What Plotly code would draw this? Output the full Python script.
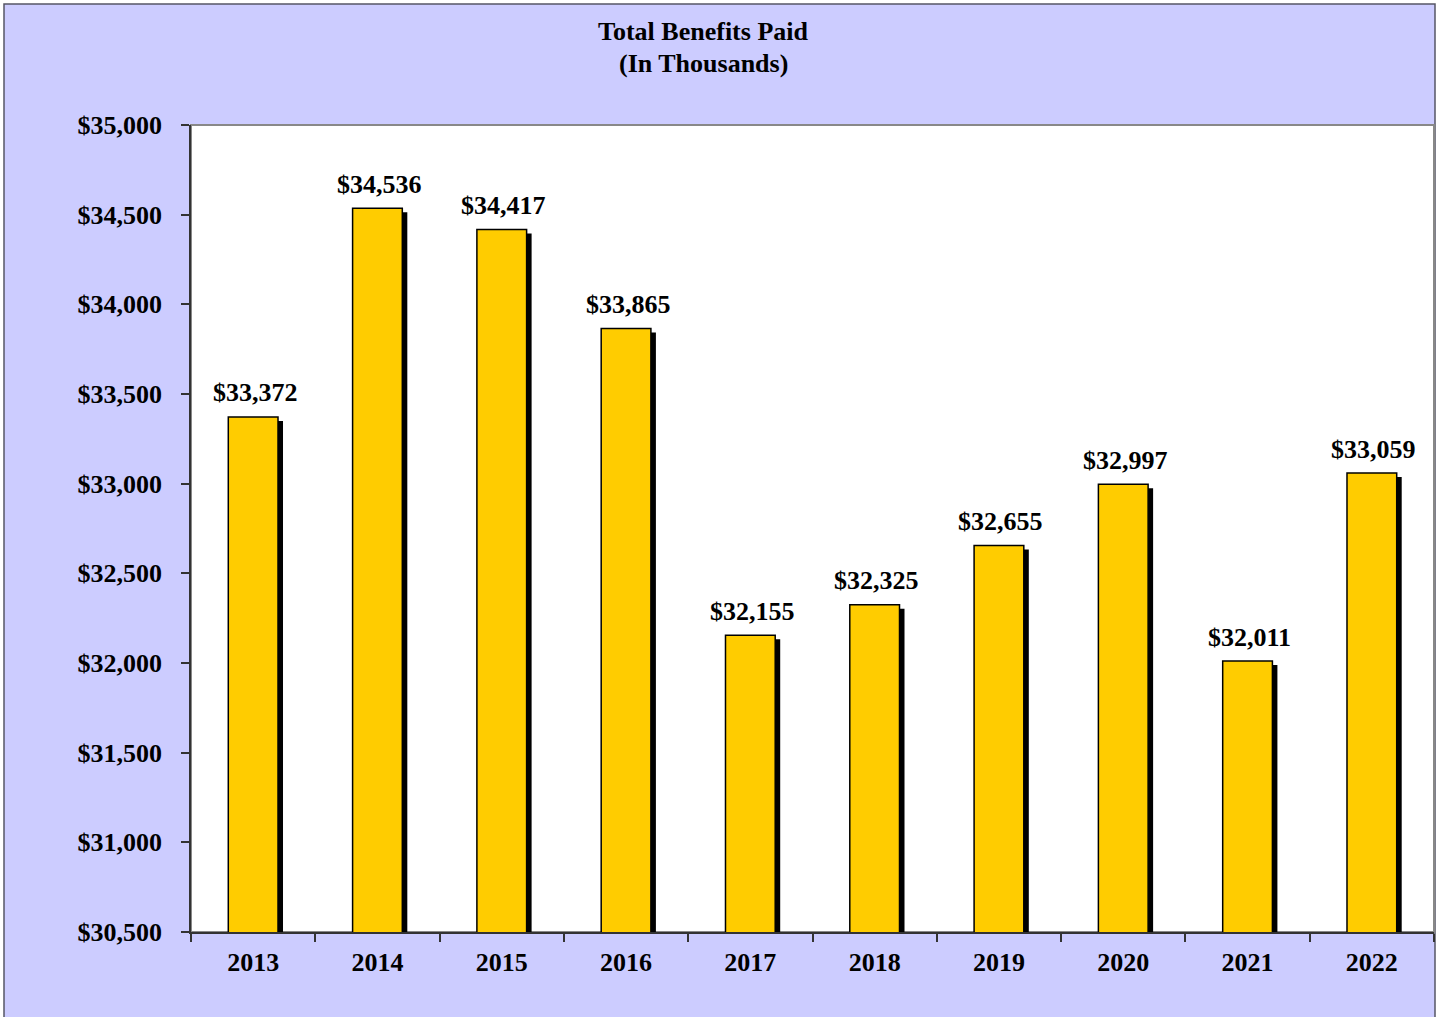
import plotly.graph_objects as go

years = ["2013", "2014", "2015", "2016", "2017", "2018", "2019", "2020", "2021", "2022"]
benefits = [33372, 34536, 34417, 33865, 32155, 32325, 32655, 32997, 32011, 33059]
labels = ["$33,372", "$34,536", "$34,417", "$33,865", "$32,155", "$32,325",
          "$32,655", "$32,997", "$32,011", "$33,059"]
y_ticks = [30500, 31000, 31500, 32000, 32500, 33000, 33500, 34000, 34500, 35000]
title_lines = ["Total Benefits Paid", "(In Thousands)"]

FONT = "Liberation Serif, Times New Roman, serif"
W, H = 1441, 1017
ML, MR, MT, MB = 191, 7, 125, 85
pw, ph = W - ML - MR, H - MT - MB
y_min, y_max = 30500, 35000
units_per_px = (y_max - y_min) / ph
cat_per_px = 1 / (pw / len(years))

bar_w = 0.4
shadow_dx = 5 * cat_per_px
shadow_dy = 4 * units_per_px

fig = go.Figure()
# shadow
fig.add_trace(go.Bar(
    x=years, y=[v - shadow_dy for v in benefits],
    width=bar_w, offset=-bar_w / 2 + shadow_dx,
    marker=dict(color="black", line=dict(width=0)),
    hoverinfo="skip", showlegend=False,
))
# main bars
fig.add_trace(go.Bar(
    x=years, y=benefits,
    width=bar_w, offset=-bar_w / 2,
    marker=dict(color="#FFCC00", line=dict(color="black", width=1.5)),
    showlegend=False,
))

annotations = []
for i, (v, lab) in enumerate(zip(benefits, labels)):
    annotations.append(dict(
        x=i, y=v, xref="x", yref="y", text=f"<b>{lab}</b>", showarrow=False,
        xanchor="center", yanchor="middle", yshift=24, xshift=2,
        font=dict(family=FONT, size=26, color="black"),
    ))
for i, line in enumerate(title_lines):
    ypx = 32 + 32 * i
    annotations.append(dict(
        x=(703 - ML) / pw, y=(H - MB - ypx) / ph, xref="paper", yref="paper",
        text=f"<b>{line}</b>", showarrow=False, xanchor="center", yanchor="middle",
        font=dict(family=FONT, size=26, color="black"),
    ))

fig.update_layout(
    width=W, height=H,
    margin=dict(l=ML, r=MR, t=MT, b=MB),
    barmode="overlay",
    paper_bgcolor="white",
    plot_bgcolor="white",
    font=dict(family=FONT, size=26, color="black"),
    annotations=annotations,
    shapes=[
        dict(type="rect", xref="paper", yref="paper", layer="below",
             x0=(4 - ML) / pw, x1=(1435 - ML) / pw,
             y0=(H - MB - 1030) / ph, y1=(H - MB - 4) / ph,
             fillcolor="#CCCCFF", line=dict(color="#555566", width=1.5)),
        dict(type="rect", xref="paper", yref="paper", layer="below",
             x0=0, x1=1, y0=0, y1=1,
             fillcolor="white", line=dict(color="#888888", width=2)),
    ],
)

fig.update_xaxes(
    type="category",
    range=[-0.5, len(years) - 0.5],
    showline=True, linecolor="#333333", linewidth=1.5,
    ticks="outside", tickson="boundaries", ticklen=8, tickcolor="#333333", tickwidth=1.5,
    tickfont=dict(family=FONT, size=26, color="black", weight="bold"),
    ticklabelstandoff=6, tickangle=0,
    showgrid=False, zeroline=False,
)
fig.update_yaxes(
    range=[y_min, y_max],
    tickvals=y_ticks, tickformat="$,.0f",
    showline=True, linecolor="#333333", linewidth=1.5,
    ticks="outside", ticklen=8, tickcolor="#333333", tickwidth=1.5,
    tickfont=dict(family=FONT, size=26, color="black", weight="bold"),
    ticklabelstandoff=14,
    showgrid=False, zeroline=False,
)

fig.write_html("out.html", config={"displayModeBar": False},
               post_script="document.body.style.margin='0';")
